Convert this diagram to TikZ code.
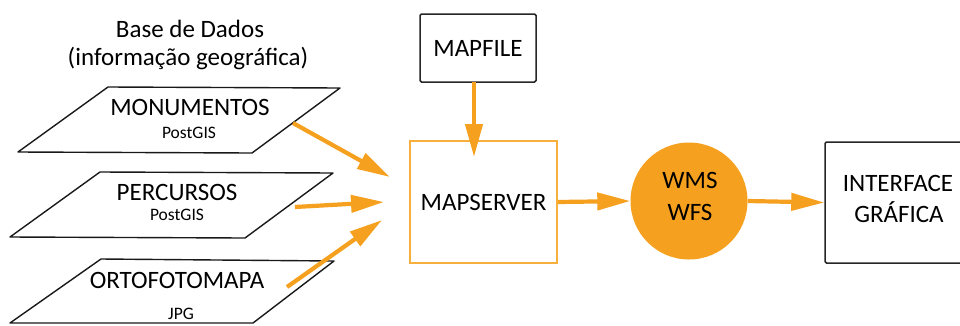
\documentclass[tikz,border=0pt]{standalone}
\usepackage{fontspec}
\setmainfont{Carlito}
\usetikzlibrary{arrows.meta}
\definecolor{orng}{RGB}{245,160,30}
\definecolor{orngline}{RGB}{247,176,62}
\tikzset{
  big/.style={font=\fontsize{25}{29}\selectfont},
  small/.style={font=\fontsize{17.5}{20}\selectfont},
  blackbox/.style={draw=black!85, line width=1.5pt, rounded corners=1.5pt, inner sep=0pt},
  layer/.style={draw=black!90, line width=1.4pt, line join=round},
  flow/.style={draw=orng, line width=4.2pt, -{Triangle[length=33pt,width=17pt]}},
  txt/.style={inner sep=0pt, anchor=base}
}
\begin{document}
\begin{tikzpicture}[x=1pt,y=-1pt]
\useasboundingbox (0,0) rectangle (960,325);
% title
\node[txt,big] (t1) at (190,37) {Base de Dados};
\node[txt,big] (t2) at (188,65) {(informação geográfica)};
% layers
\draw[layer] (108,87) -- (340,88) -- (252,153) -- (18,152) -- cycle;
\node[txt,big] (mon) at (190,115) {MONUMENTOS};
\node[txt,small] (mons) at (189,138) {PostGIS};
\draw[layer] (100,172) -- (333,173) -- (245,238) -- (10,237) -- cycle;
\node[txt,big] (per) at (177,200) {PERCURSOS};
\node[txt,small] (pers) at (177,220) {PostGIS};
\draw[layer] (101,259) -- (334,261) -- (253,323) -- (10,323) -- cycle;
\node[txt,big] (orto) at (177,288) {ORTOFOTOMAPA};
\node[txt,small] (ortos) at (181,319) {JPG};
% boxes
\node[blackbox, minimum width=116pt, minimum height=68pt, big] (mapfile) at (478,48) {MAPFILE};
\node[draw=orngline, line width=1.6pt, inner sep=0pt, minimum width=147pt, minimum height=122pt, big] (mapserver) at (483.5,202) {MAPSERVER};
\node[circle, fill=orng, inner sep=0pt, minimum size=117pt] (wms) at (689,201) {};
\node[txt,big] (wmst) at (690,188) {WMS};
\node[txt,big] (wfst) at (690,220) {WFS};
\node[blackbox, minimum width=138pt, minimum height=121pt] (iface) at (894,202.5) {};
\node[txt,big] (ift) at (898,191) {INTERFACE};
\node[txt,big] (grt) at (899,222) {GRÁFICA};
% connector coordinates
\coordinate (s1) at (293,123);
\coordinate (e1) at (390,177);
\coordinate (s2) at (295,207);
\coordinate (e2) at (384,202);
\coordinate (s3) at (287,287);
\coordinate (e3) at (382,220);
\coordinate (mf) at (474,82);
\coordinate (e4) at (474,157);
% connectors
\draw[flow] (s1) -- (e1);
\draw[flow] (s2) -- (e2);
\draw[flow] (s3) -- (e3);
\draw[flow] (mf) -- (e4);
\draw[flow] (mapserver.east) -- (wms.west);
\draw[flow] (wms.east) -- (iface.west);
\end{tikzpicture}
\end{document}
